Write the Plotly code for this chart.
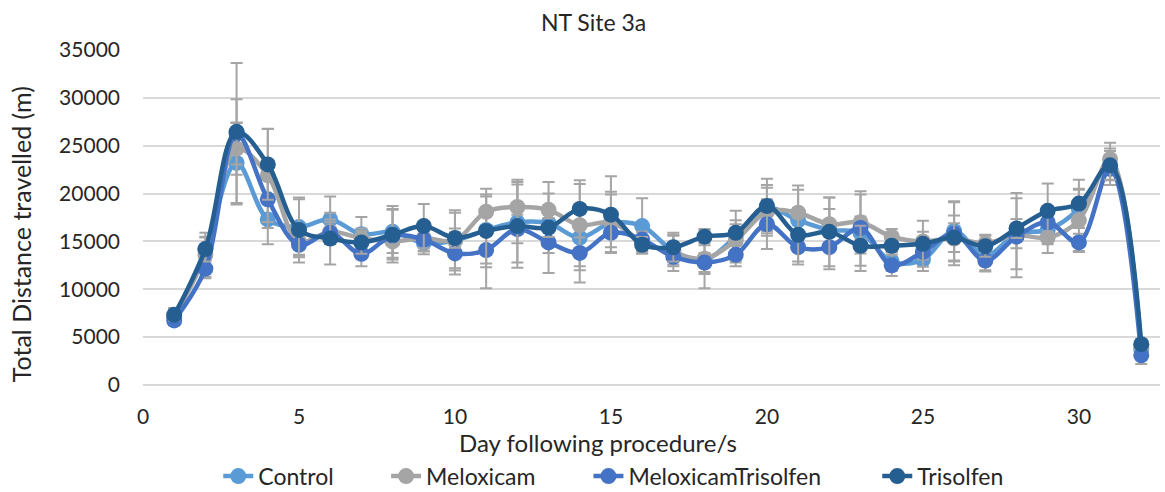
import plotly.graph_objects as go

# Daily total distance travelled (m) per treatment group, days 1-32
days = list(range(1, 33))

control = [7000, 14200, 23200, 17300, 16500, 17300, 15750, 16000, 14850, 15100,
           16200, 17000, 16900, 15400, 16900, 16600, 14000, 13100, 15500, 18500,
           17200, 16200, 15900, 12900, 13100, 16100, 13500, 15800, 16200, 18400,
           22800, 3700]
meloxicam = [7150, 13600, 24700, 21900, 15000, 16000, 15350, 15000, 15350, 15100,
             18100, 18600, 18300, 16700, 17000, 15000, 13800, 13200, 15100, 18100,
             18000, 16800, 17000, 15500, 15000, 15300, 14800, 15650, 15400, 17200,
             23600, 4000]
melox_trisolfen = [6750, 12150, 26250, 19400, 14650, 15900, 13700, 15600, 15200, 13750,
                   14100, 16300, 14900, 13800, 15900, 15200, 13400, 12800, 13600, 16800,
                   14400, 14400, 16400, 12500, 13900, 15800, 13000, 15500, 17000, 14900,
                   22600, 3100]
trisolfen = [7330, 14200, 26450, 23050, 16200, 15300, 14900, 15700, 16600, 15350,
             16100, 16600, 16450, 18400, 17800, 14650, 14400, 15500, 15900, 18700,
             15700, 16000, 14550, 14550, 14750, 15400, 14500, 16350, 18200, 18950,
             22950, 4270]

# Standard errors for each group
control_err = [700, 1200, 4180, 2600, 2900, 2400, 1800, 2700, 900, 2900,
               3500, 4200, 3100, 3400, 3000, 2900, 1600, 1500, 2700, 2400,
               3200, 2200, 4000, 1000, 1200, 3100, 1500, 3700, 1500, 2000,
               1900, 700]
meloxicam_err = [900, 2300, 2730, 4870, 1500, 1300, 1000, 1200, 1700, 3150,
                 2400, 2850, 2900, 4300, 3200, 1000, 1900, 3100, 2100, 2500,
                 2850, 2800, 3250, 800, 1000, 2400, 900, 4400, 1600, 3300,
                 1700, 600]
melox_trisolfen_err = [500, 1000, 7400, 3000, 1300, 1100, 1300, 2800, 1200, 2200,
                       4000, 1500, 3200, 3100, 1500, 800, 800, 1000, 1200, 2600,
                       1800, 2300, 1200, 1100, 800, 3300, 1150, 1200, 1000, 900,
                       1200, 900]
trisolfen_err = [600, 1300, 3400, 3700, 3400, 2700, 1200, 2600, 2300, 1000,
                 3800, 4350, 1000, 3000, 4000, 800, 1500, 700, 900, 2850,
                 2800, 3600, 2100, 700, 2400, 1500, 1100, 1000, 2850, 2500,
                 1500, 500]

series_names = ["Control", "Meloxicam", "MeloxicamTrisolfen", "Trisolfen"]
series_values = [control, meloxicam, melox_trisolfen, trisolfen]
series_errors = [control_err, meloxicam_err, melox_trisolfen_err, trisolfen_err]
series_colors = ["#5B9BD5", "#A5A5A5", "#4472C4", "#255E91"]

FONT = "Lato, 'Open Sans', sans-serif"
TEXT = "#262626"

# each series gets its own legend box so the entries can be spaced out
legend_ids = ["legend", "legend2", "legend3", "legend4"]
legend_x = [0.074, 0.239, 0.438, 0.722]

fig = go.Figure()
for name, vals, errs, color, lid in zip(series_names, series_values,
                                        series_errors, series_colors, legend_ids):
    fig.add_trace(go.Scatter(
        x=days, y=vals, name=name, mode="lines+markers", legend=lid,
        line=dict(color=color, width=4.5, shape="spline", smoothing=1),
        marker=dict(color=color, size=16, line=dict(width=0)),
        error_y=dict(type="data", array=errs, visible=True,
                     color="#A5A5A5", thickness=2, width=6),
    ))

legend_common = dict(orientation="h", xanchor="left", yanchor="middle",
                     y=-0.272, bgcolor="rgba(0,0,0,0)",
                     font=dict(family=FONT, size=23, color=TEXT))

fig.update_layout(
    width=1165, height=492,
    margin=dict(l=143, r=5, t=50, b=107, autoexpand=False),
    paper_bgcolor="white", plot_bgcolor="white",
    font=dict(family=FONT, size=21, color=TEXT),
    showlegend=True,
    legend=dict(x=legend_x[0], **legend_common),
    legend2=dict(x=legend_x[1], **legend_common),
    legend3=dict(x=legend_x[2], **legend_common),
    legend4=dict(x=legend_x[3], **legend_common),
    annotations=[
        dict(text="NT Site 3a", x=0.443, y=1.0836, xref="paper", yref="paper",
             xanchor="center", yanchor="middle", showarrow=False,
             font=dict(family=FONT, size=23, color=TEXT)),
        dict(text="Day following procedure/s", x=0.447, y=-0.172,
             xref="paper", yref="paper", xanchor="center", yanchor="middle",
             showarrow=False, font=dict(family=FONT, size=24, color=TEXT)),
        dict(text="Total Distance travelled (m)", x=-0.12, y=0.45,
             xref="paper", yref="paper", xanchor="center", yanchor="middle",
             textangle=-90, showarrow=False,
             font=dict(family=FONT, size=25, color=TEXT)),
    ],
)

fig.update_xaxes(
    range=[0, 32.6], tickmode="array", tickvals=[0, 5, 10, 15, 20, 25, 30],
    showgrid=False, zeroline=False, showline=False, ticks="",
    ticklabelstandoff=17,
    tickfont=dict(family=FONT, size=21, color=TEXT),
)
fig.update_yaxes(
    range=[0, 35000], tickmode="linear", tick0=0, dtick=5000, tickformat="d",
    showgrid=True, gridcolor="#D9D9D9", gridwidth=1.5,
    zeroline=True, zerolinecolor="#D9D9D9", zerolinewidth=1.5,
    showline=False, ticks="", ticklabelstandoff=22,
    tickfont=dict(family=FONT, size=21, color=TEXT),
)

fig.write_html("out.html")
